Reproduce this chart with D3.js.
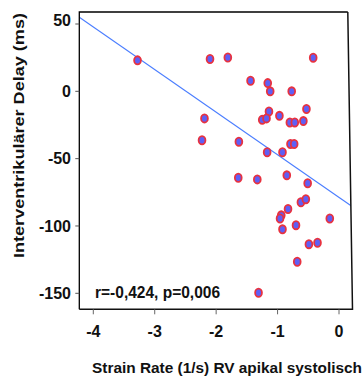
<!DOCTYPE html>
<html>
<head>
<meta charset="utf-8">
<script src="https://cdn.jsdelivr.net/npm/d3@7"></script>
<style>
  html, body { margin: 0; padding: 0; background: #fff; }
  svg { display: block; }
  text { font-family: "Liberation Sans", Arial, sans-serif; font-weight: bold; fill: #111; }
</style>
</head>
<body>
<svg id="chart" width="364" height="378"></svg>
<script>
// Strain rate (1/s) RV apical systolic vs. interventricular delay (ms)
const strainRate = [
  -3.28, -2.10, -1.81, -0.42, -1.44, -1.16, -1.12, -0.77, -0.53, -1.14,
  -2.19, -0.97, -1.25, -1.18, -0.80, -0.72, -0.58, -2.23, -1.63, -1.17,
  -0.92, -0.79, -0.73, -1.64, -1.33, -0.85, -0.51, -0.62, -0.54, -0.83,
  -0.94, -0.96, -0.92, -0.70, -0.15, -0.49, -0.35, -0.68, -1.31
];
const delayMs = [
   23.0,  24.0,  25.1,  25.0,   7.9,   6.1,   0.0,   0.0, -13.1, -15.0,
  -20.1, -18.2, -21.2, -20.1, -23.2, -23.2, -22.1, -36.3, -37.4, -45.3,
  -45.3, -39.1, -39.1, -64.2, -65.4, -62.4, -68.3, -82.4, -80.2, -87.4,
  -92.1, -94.4, -102.5, -99.4, -94.4, -113.5, -112.5, -126.6, -149.6
];
const xTicks = [-4, -3, -2, -1, 0];
const yTicks = [50, 0, -50, -100, -150];
// linear fit: delay = fitIntercept + fitSlope * strainRate
const fitIntercept = -78.8;
const fitSlope = -31.65;
const statsLabel = "r=-0,424, p=0,006";
const xTitle = "Strain Rate (1/s) RV apikal systolisch";
const yTitle = "Interventrikulärer Delay (ms)";

const svg = d3.select("#chart");

const frame = { left: 79.3, top: 12, rightTop: 347.8, rightBottom: 352.5, bottom: 309.3 };

const x = d3.scaleLinear().domain([-4, 0]).range([93.3, 339]);
const y = d3.scaleLinear().domain([50, -150]).range([24, 293.3]);

// clip for the plot area
svg.append("defs").append("clipPath").attr("id", "plotClip")
  .append("path")
  .attr("d", `M${frame.left},${frame.top}L${frame.rightTop},${frame.top}L${frame.rightBottom},${frame.bottom}L${frame.left},${frame.bottom}Z`);

// regression line
const x0 = x.invert(frame.left), x1 = x.invert(frame.rightBottom);
svg.append("line")
  .attr("clip-path", "url(#plotClip)")
  .attr("x1", x(x0)).attr("y1", y(fitIntercept + fitSlope * x0))
  .attr("x2", x(x1)).attr("y2", y(fitIntercept + fitSlope * x1))
  .attr("stroke", "#4a7dff").attr("stroke-width", 1.1);

// data points
svg.append("g").selectAll("ellipse")
  .data(strainRate.map((v, i) => [v, delayMs[i]]))
  .join("ellipse")
  .attr("cx", d => x(d[0]))
  .attr("cy", d => y(d[1]))
  .attr("rx", 3.4).attr("ry", 4.1)
  .attr("fill", "#5f5ff5")
  .attr("stroke", "#e8323f")
  .attr("stroke-width", 1.8);

// frame
svg.append("path")
  .attr("d", `M${frame.left},${frame.bottom}L${frame.left},${frame.top}L${frame.rightTop},${frame.top}`)
  .attr("fill", "none").attr("stroke", "#000").attr("stroke-width", 1.3);
svg.append("path")
  .attr("d", `M${frame.rightTop},${frame.top}L${frame.rightBottom},${frame.bottom}L${frame.left},${frame.bottom}`)
  .attr("fill", "none").attr("stroke", "#111").attr("stroke-width", 1.5);

// y axis ticks and labels
const yAxis = svg.append("g");
yAxis.selectAll("line").data(yTicks).join("line")
  .attr("x1", frame.left - 4).attr("x2", frame.left)
  .attr("y1", d => y(d)).attr("y2", d => y(d))
  .attr("stroke", "#555").attr("stroke-width", 1);
yAxis.selectAll("text").data(yTicks).join("text")
  .attr("x", 71).attr("y", d => y(d))
  .attr("dy", d => d === 50 ? "0.1em" : "0.36em")
  .attr("text-anchor", "end")
  .style("font-size", "16px")
  .text(d => d);

// x axis ticks and labels
const xAxis = svg.append("g");
xAxis.selectAll("line").data(xTicks).join("line")
  .attr("x1", d => x(d)).attr("x2", d => x(d))
  .attr("y1", frame.bottom).attr("y2", frame.bottom + 5)
  .attr("stroke", "#666").attr("stroke-width", 1);
xAxis.selectAll("text").data(xTicks).join("text")
  .attr("x", d => x(d)).attr("y", 337)
  .attr("text-anchor", "middle")
  .style("font-size", "16px")
  .text(d => d);

// statistics annotation
svg.append("text")
  .attr("x", 95).attr("y", 297.5)
  .style("font-size", "16px")
  .attr("textLength", 125).attr("lengthAdjust", "spacingAndGlyphs")
  .text(statsLabel);

// axis titles
svg.append("text")
  .attr("x", 92).attr("y", 373)
  .style("font-size", "15px")
  .attr("textLength", 270).attr("lengthAdjust", "spacingAndGlyphs")
  .text(xTitle);

svg.append("text")
  .attr("transform", "translate(23.5,258) rotate(-90)")
  .style("font-size", "15px")
  .attr("textLength", 245).attr("lengthAdjust", "spacingAndGlyphs")
  .text(yTitle);
</script>
</body>
</html>
